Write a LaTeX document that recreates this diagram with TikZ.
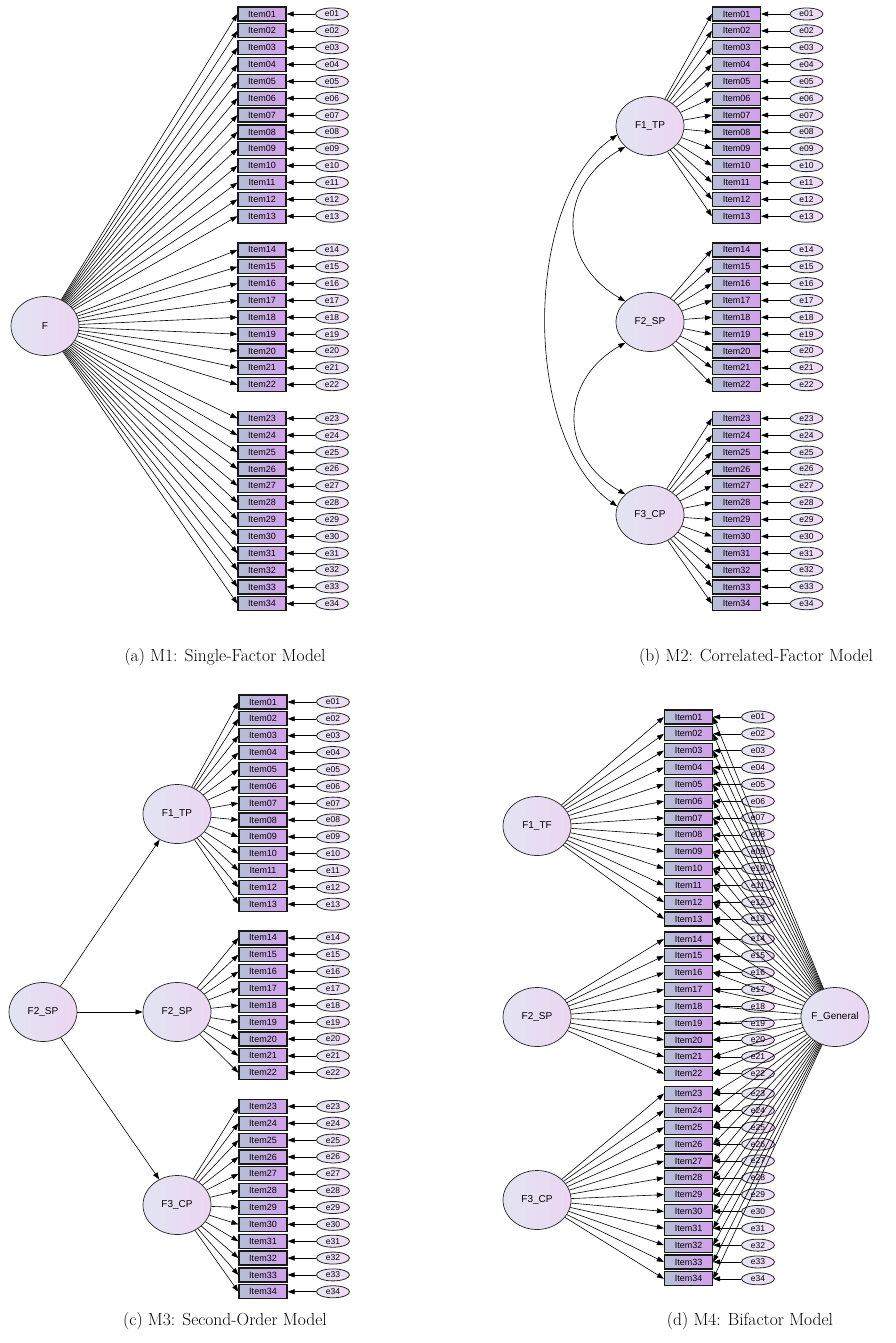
\documentclass[tikz,border=0pt]{standalone}
\usepackage{fontspec}
\newfontfamily\amosfont{Liberation Sans}
\usetikzlibrary{arrows.meta,shapes.geometric}
\definecolor{itemL}{RGB}{182,190,214}
\definecolor{itemR}{RGB}{210,160,236}
\definecolor{latL}{RGB}{226,228,242}
\definecolor{latR}{RGB}{236,214,242}
\definecolor{errL}{RGB}{230,231,243}
\definecolor{errR}{RGB}{238,218,246}
\begin{document}
\begin{tikzpicture}[x=1pt,y=-1pt,
  itembox/.style={rectangle, draw=black!90, line width=1.2pt, minimum width=48pt, minimum height=14pt, inner sep=0pt, left color=itemL, right color=itemR, font=\amosfont\fontsize{9}{9}\selectfont},
  errnode/.style={ellipse, draw=black!85, line width=0.8pt, minimum width=33pt, minimum height=12pt, inner sep=0pt, left color=errL, right color=errR, font=\amosfont\fontsize{8.5}{8.5}\selectfont},
  latnode/.style={ellipse, draw=black!85, line width=0.7pt, minimum width=68pt, minimum height=59pt, inner sep=0pt, left color=latL, right color=latR, font=\amosfont\fontsize{10}{10}\selectfont},
  ld/.style={-{Triangle[length=7pt,width=5pt]}, line width=0.6pt},
  cov/.style={{Triangle[length=7pt,width=5pt]}-{Triangle[length=7pt,width=5pt]}, line width=0.6pt},
  captxt/.style={font=\fontsize{17.5}{20}\selectfont, inner sep=0pt}
]
\useasboundingbox (0,0) rectangle (895,1343);
\fill[white] (0,0) rectangle (895,1343);

% ---------------- (a) single factor ----------------
\node[latnode] (aF) at (45,326) {F};
\foreach \k in {1,...,34}{
  \pgfmathsetmacro\yy{14+(\k-1+(\k>13)+(\k>22))*16.85}
  \node[itembox] (a\k) at (262,\yy) {Item\ifnum\k<10 0\fi\k};
  \node[errnode] (ae\k) at (332,\yy) {e\ifnum\k<10 0\fi\k};
  \draw[ld] (ae\k) -- (a\k);
  \draw[ld] (aF) -- (a\k.west);
}
\node[captxt] (capa) at (225,657) {(a) M1: Single-Factor Model};

% ---------------- (b) correlated factors ----------------
\node[latnode] (bF1) at (650,126) {F1\_TP};
\node[latnode] (bF2) at (650,322) {F2\_SP};
\node[latnode] (bF3) at (650,515) {F3\_CP};
\foreach \k in {1,...,34}{
  \pgfmathsetmacro\yy{14+(\k-1+(\k>13)+(\k>22))*16.85}
  \ifnum\k<14 \def\src{bF1}\else\ifnum\k<23 \def\src{bF2}\else\def\src{bF3}\fi\fi
  \node[itembox] (b\k) at (736.5,\yy) {Item\ifnum\k<10 0\fi\k};
  \node[errnode] (be\k) at (806.5,\yy) {e\ifnum\k<10 0\fi\k};
  \draw[ld] (be\k) -- (b\k);
  \draw[ld] (\src) -- (b\k.west);
}
\draw[cov] (bF1.220) to[out=210,in=150,looseness=1.3] (bF2.140);
\draw[cov] (bF2.220) to[out=210,in=150,looseness=1.3] (bF3.140);
\draw[cov] (bF1.195) to[out=215,in=145,looseness=0.8] (bF3.165);
\node[captxt] (capb) at (756,657) {(b) M2: Correlated-Factor Model};

% ---------------- (c) second order ----------------
\node[latnode] (cG) at (43,1012) {F2\_SP};
\node[latnode] (cF1) at (177,814) {F1\_TP};
\node[latnode] (cF2) at (177,1012) {F2\_SP};
\node[latnode] (cF3) at (177,1205) {F3\_CP};
\draw[ld] (cG) -- (cF1);
\draw[ld] (cG) -- (cF2);
\draw[ld] (cG) -- (cF3);
\foreach \k in {1,...,34}{
  \pgfmathsetmacro\yy{702+(\k-1+(\k>13)+(\k>22))*16.85}
  \ifnum\k<14 \def\src{cF1}\else\ifnum\k<23 \def\src{cF2}\else\def\src{cF3}\fi\fi
  \node[itembox] (c\k) at (263,\yy) {Item\ifnum\k<10 0\fi\k};
  \node[errnode] (ce\k) at (333,\yy) {e\ifnum\k<10 0\fi\k};
  \draw[ld] (ce\k) -- (c\k);
  \draw[ld] (\src) -- (c\k.west);
}
\node[captxt] (capc) at (225,1321) {(c) M3: Second-Order Model};

% ---------------- (d) bifactor ----------------
\node[latnode] (dF1) at (537,826) {F1\_TF};
\node[latnode] (dF2) at (537,1017) {F2\_SP};
\node[latnode] (dF3) at (537,1200) {F3\_CP};
\node[latnode] (dG) at (835,1017) {F\_General};
\foreach \k in {1,...,34}{
  \pgfmathsetmacro\yy{717+(\k-1)*16.83+3.2*(\k>13)+3.2*(\k>22)}
  \ifnum\k<14 \def\src{dF1}\else\ifnum\k<23 \def\src{dF2}\else\def\src{dF3}\fi\fi
  \node[itembox] (d\k) at (688.5,\yy) {Item\ifnum\k<10 0\fi\k};
  \node[errnode] (de\k) at (758,\yy) {e\ifnum\k<10 0\fi\k};
  \draw[ld] (de\k) -- (d\k);
  \draw[ld] (\src) -- (d\k.west);
}
\foreach \k in {1,...,34}{
  \draw[ld] (dG) -- (d\k.east);
}
\node[captxt] (capd) at (750,1321) {(d) M4: Bifactor Model};
\end{tikzpicture}
\end{document}
